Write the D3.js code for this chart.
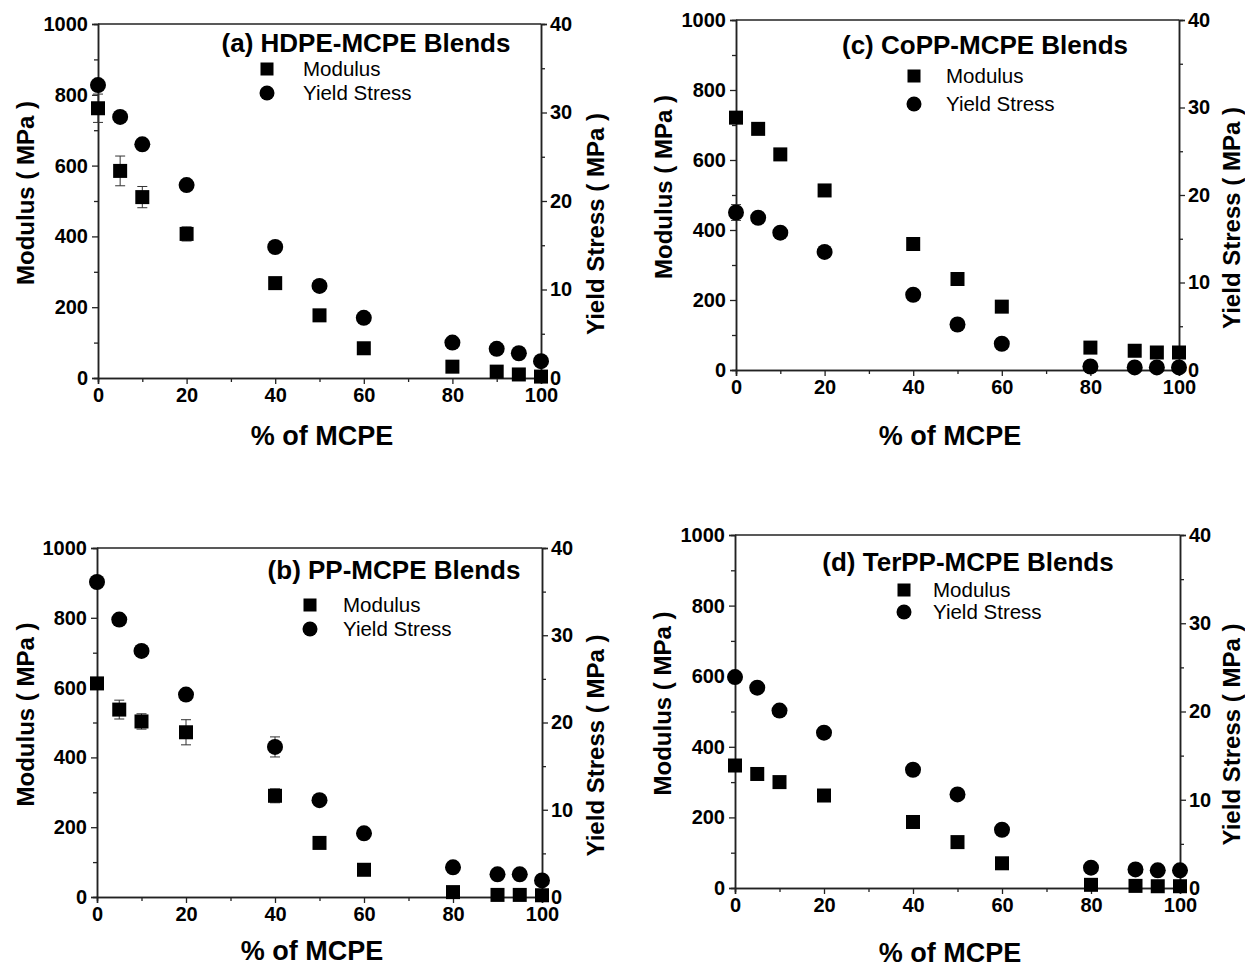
<!DOCTYPE html>
<html lang="en">
  <head>
    <meta charset="utf-8" />
    <title>Modulus and yield stress of MCPE blends</title>
    <script src="https://d3js.org/d3.v7.min.js"></script>
    <style type="text/css">
      body { margin: 0; background: #fff; }
      text { font-family: "Liberation Sans", Arial, sans-serif; fill: #000; }
    </style>
  </head>
  <body>
    <script type="text/javascript">
      // % of MCPE in the blend
      const mcpe = [0, 5, 10, 20, 40, 50, 60, 80, 90, 95, 100];

      // (a) HDPE-MCPE
      const hdpeModulus = [762, 585, 511, 407, 268, 177, 84, 32, 18, 10, 4];
      const hdpeModulusErr = [40, 42, 30, 20, 10, 8, 5, 4, 3, 3, 2];
      const hdpeYield = [33.1, 29.5, 26.4, 21.8, 14.8, 10.4, 6.8, 4.0, 3.3, 2.8, 1.9];
      const hdpeYieldErr = [0.6, 0.5, 0.5, 0.4, 0.4, 0.3, 0.3, 0.2, 0.2, 0.2, 0.2];

      // (b) PP-MCPE
      const ppModulus = [612, 537, 503, 472, 290, 155, 78, 14, 6, 6, 5];
      const ppModulusErr = [12, 27, 22, 36, 20, 14, 5, 3, 2, 2, 2];
      const ppYield = [36.1, 31.8, 28.2, 23.2, 17.2, 11.1, 7.3, 3.4, 2.6, 2.6, 1.9];
      const ppYieldErr = [0.4, 0.4, 0.4, 0.4, 1.15, 0.5, 0.3, 0.2, 0.2, 0.2, 0.2];

      // (c) CoPP-MCPE
      const coppModulus = [721, 689, 616, 513, 360, 260, 181, 64, 55, 50, 50];
      const coppModulusErr = [10, 8, 8, 8, 8, 6, 6, 4, 3, 3, 3];
      const coppYield = [18.0, 17.4, 15.7, 13.5, 8.6, 5.2, 3.0, 0.4, 0.3, 0.3, 0.3];
      const coppYieldErr = [0.9, 0.4, 0.4, 0.4, 0.4, 0.4, 0.3, 0.1, 0.1, 0.1, 0.1];

      // (d) TerPP-MCPE
      const terppModulus = [347, 323, 300, 262, 187, 130, 70, 9, 6, 5, 5];
      const terppModulusErr = [6, 6, 6, 6, 6, 5, 4, 2, 2, 2, 2];
      const terppYield = [23.9, 22.7, 20.1, 17.6, 13.4, 10.6, 6.6, 2.3, 2.1, 2.0, 2.0];
      const terppYieldErr = [0.3, 0.3, 0.3, 0.3, 0.3, 0.3, 0.3, 0.2, 0.2, 0.2, 0.2];

      // axes
      const xTicks = [0, 20, 40, 60, 80, 100];
      const modulusTicks = [0, 200, 400, 600, 800, 1000];
      const yieldTicks = [0, 10, 20, 30, 40];
      const seriesNames = ["Modulus", "Yield Stress"];
      const xTitle = "% of MCPE";
      const modulusTitle = "Modulus ( MPa )";
      const yieldTitle = "Yield Stress ( MPa )";

      const panels = [
        {
          title: "(a) HDPE-MCPE Blends", modulus: hdpeModulus, modErr: hdpeModulusErr,
          yieldS: hdpeYield, yErr: hdpeYieldErr,
          x0: 98, x1: 541, y0: 24, y1: 378,
          titleX: 366, titleY: 52, legX: 267, legY: 69, legText: 303, legGap: 24,
          xTitleX: 322, xTitleY: 445, lTitleX: 34, rTitleX: 604
        },
        {
          title: "(c) CoPP-MCPE Blends", modulus: coppModulus, modErr: coppModulusErr,
          yieldS: coppYield, yErr: coppYieldErr,
          x0: 736, x1: 1179, y0: 20, y1: 370,
          titleX: 985, titleY: 54, legX: 914, legY: 76, legText: 946, legGap: 28,
          xTitleX: 950, xTitleY: 445, lTitleX: 672, rTitleX: 1240
        },
        {
          title: "(b) PP-MCPE Blends", modulus: ppModulus, modErr: ppModulusErr,
          yieldS: ppYield, yErr: ppYieldErr,
          x0: 97, x1: 542, y0: 548, y1: 897,
          titleX: 394, titleY: 579, legX: 310, legY: 605, legText: 343, legGap: 24,
          xTitleX: 312, xTitleY: 960, lTitleX: 34, rTitleX: 604
        },
        {
          title: "(d) TerPP-MCPE Blends", modulus: terppModulus, modErr: terppModulusErr,
          yieldS: terppYield, yErr: terppYieldErr,
          x0: 735, x1: 1180, y0: 535, y1: 888,
          titleX: 968, titleY: 571, legX: 904, legY: 590, legText: 933, legGap: 22,
          xTitleX: 950, xTitleY: 962, lTitleX: 671, rTitleX: 1240
        }
      ];

      const W = 1245;
      const H = 967;
      const sq = 14; // square marker side
      const cr = 8; // circle marker radius

      const svg = d3
        .select("body")
        .append("svg")
        .attr("width", W)
        .attr("height", H);

      panels.forEach(function (p) {
        const x = d3.scaleLinear().domain([0, 100]).range([p.x0, p.x1]);
        const yL = d3.scaleLinear().domain([0, 1000]).range([p.y1, p.y0]);
        const yR = d3.scaleLinear().domain([0, 40]).range([p.y1, p.y0]);

        const g = svg.append("g");

        // frame top line
        g.append("line")
          .attr("x1", p.x0).attr("x2", p.x1)
          .attr("y1", p.y0).attr("y2", p.y0)
          .attr("stroke", "#222").attr("stroke-width", 1.5);

        // minor ticks
        const minor = function (axis) {
          return axis.tickSize(4).tickFormat("");
        };
        g.append("g")
          .attr("transform", "translate(0," + p.y1 + ")")
          .call(minor(d3.axisBottom(x).tickValues(d3.range(10, 100, 20))));
        g.append("g")
          .attr("transform", "translate(" + p.x0 + ",0)")
          .call(minor(d3.axisLeft(yL).tickValues(d3.range(100, 1000, 200))));
        g.append("g")
          .attr("transform", "translate(" + p.x1 + ",0)")
          .call(minor(d3.axisRight(yR).tickValues(d3.range(5, 40, 10))));

        // major axes
        const fmt = d3.format("d");
        const xAxis = g.append("g")
          .attr("transform", "translate(0," + p.y1 + ")")
          .call(d3.axisBottom(x).tickValues(xTicks).tickFormat(fmt).tickSize(6).tickPadding(4));
        const lAxis = g.append("g")
          .attr("transform", "translate(" + p.x0 + ",0)")
          .call(d3.axisLeft(yL).tickValues(modulusTicks).tickFormat(fmt).tickSize(6).tickPadding(4));
        const rAxis = g.append("g")
          .attr("transform", "translate(" + p.x1 + ",0)")
          .call(d3.axisRight(yR).tickValues(yieldTicks).tickFormat(fmt).tickSize(6).tickPadding(3));

        g.selectAll(".domain").attr("stroke", "#222").attr("stroke-width", 1.5);
        g.selectAll(".tick line").attr("stroke", "#222").attr("stroke-width", 1.3);
        [xAxis, lAxis, rAxis].forEach(function (a) {
          a.selectAll("text")
            .style("font-size", "20px")
            .style("font-weight", "bold")
            .attr("fill", "#000");
        });

        // error bars
        const err = g.append("g").attr("stroke", "#333").attr("stroke-width", 1);
        mcpe.forEach(function (m, i) {
          const bars = [
            [yL(p.modulus[i] - p.modErr[i]), yL(p.modulus[i] + p.modErr[i])],
            [yR(p.yieldS[i] - p.yErr[i]), yR(p.yieldS[i] + p.yErr[i])]
          ];
          bars.forEach(function (b) {
            const cx = x(m);
            err.append("line").attr("x1", cx).attr("x2", cx).attr("y1", b[0]).attr("y2", b[1]);
            err.append("line").attr("x1", cx - 5).attr("x2", cx + 5).attr("y1", b[0]).attr("y2", b[0]);
            err.append("line").attr("x1", cx - 5).attr("x2", cx + 5).attr("y1", b[1]).attr("y2", b[1]);
          });
        });

        // modulus squares
        g.selectAll("rect.mod")
          .data(mcpe)
          .enter()
          .append("rect")
          .attr("class", "mod")
          .attr("x", function (d) { return x(d) - sq / 2; })
          .attr("y", function (d, i) { return yL(p.modulus[i]) - sq / 2; })
          .attr("width", sq)
          .attr("height", sq)
          .attr("fill", "#000");

        // yield circles
        g.selectAll("circle.ys")
          .data(mcpe)
          .enter()
          .append("circle")
          .attr("class", "ys")
          .attr("cx", function (d) { return x(d); })
          .attr("cy", function (d, i) { return yR(p.yieldS[i]); })
          .attr("r", cr)
          .attr("fill", "#000");

        // title
        g.append("text")
          .attr("x", p.titleX).attr("y", p.titleY)
          .attr("text-anchor", "middle")
          .style("font-size", "26px").style("font-weight", "bold")
          .text(p.title);

        // legend
        g.append("rect")
          .attr("x", p.legX - 6.5).attr("y", p.legY - 6.5)
          .attr("width", 13).attr("height", 13).attr("fill", "#000");
        g.append("circle")
          .attr("cx", p.legX).attr("cy", p.legY + p.legGap)
          .attr("r", 7.5).attr("fill", "#000");
        seriesNames.forEach(function (name, i) {
          g.append("text")
            .attr("x", p.legText).attr("y", p.legY + i * p.legGap + 7)
            .style("font-size", "20.5px")
            .text(name);
        });

        // axis titles
        g.append("text")
          .attr("x", p.xTitleX).attr("y", p.xTitleY)
          .attr("text-anchor", "middle")
          .style("font-size", "27px").style("font-weight", "bold")
          .text(xTitle);
        const midY = (p.y0 + p.y1) / 2;
        g.append("text")
          .attr("transform", "translate(" + p.lTitleX + "," + (midY - 8) + ") rotate(-90)")
          .attr("text-anchor", "middle")
          .style("font-size", "24px").style("font-weight", "bold")
          .text(modulusTitle);
        g.append("text")
          .attr("transform", "translate(" + p.rTitleX + "," + (midY + 23) + ") rotate(-90)")
          .attr("text-anchor", "middle")
          .style("font-size", "24px").style("font-weight", "bold")
          .text(yieldTitle);
      });
    </script>
  </body>
</html>
